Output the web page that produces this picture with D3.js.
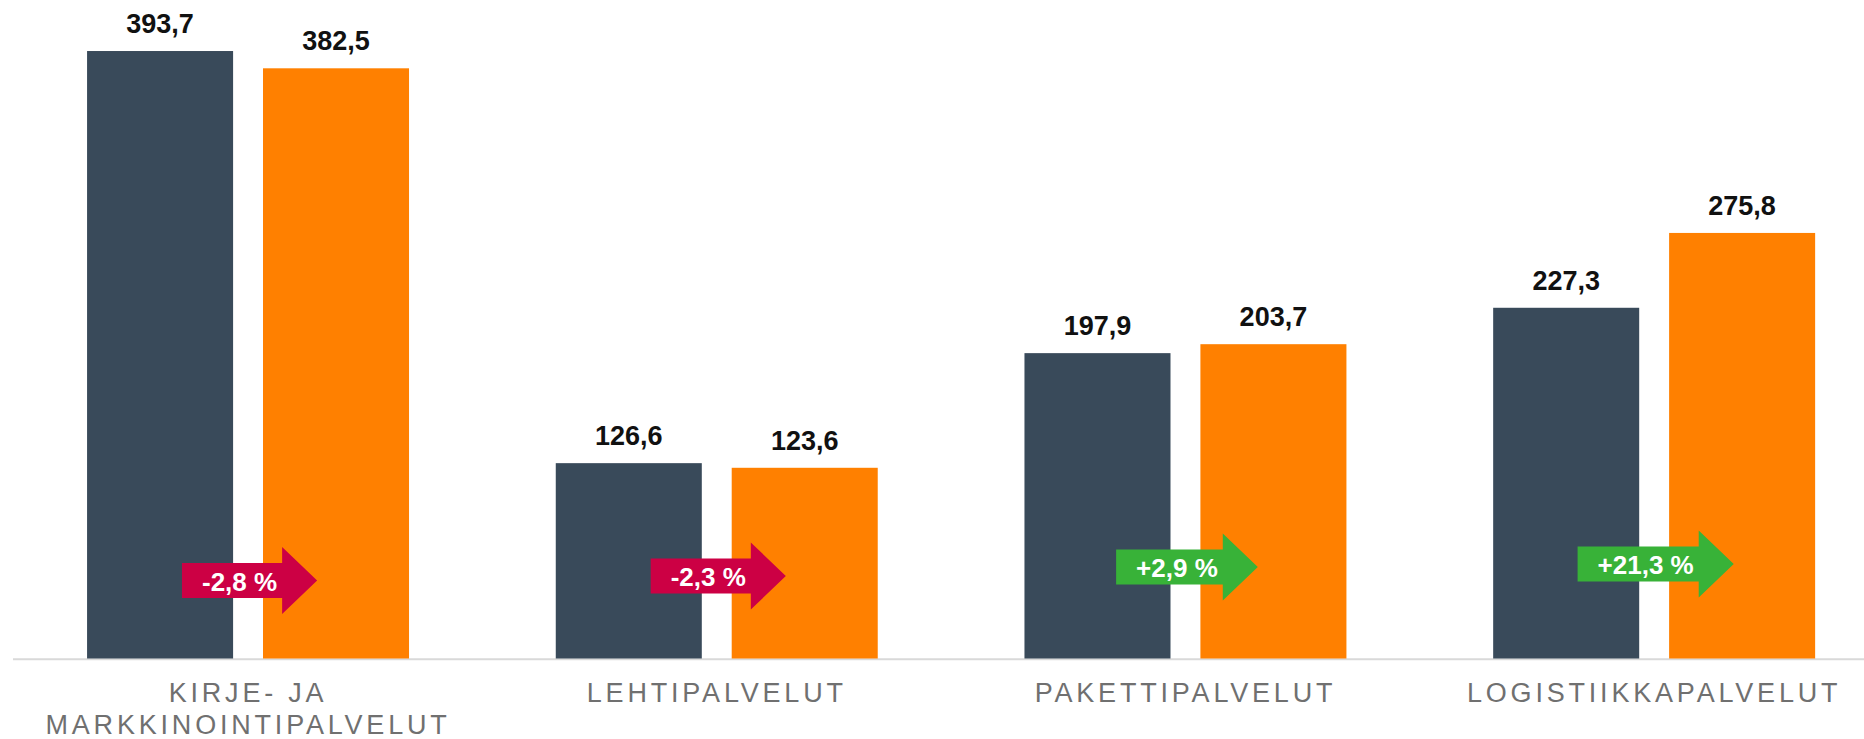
<!DOCTYPE html>
<html>
<head>
<meta charset="utf-8">
<script src="https://cdn.jsdelivr.net/npm/d3@7"></script>
<style>
  html, body { margin: 0; padding: 0; background: #fff; }
  svg { display: block; font-family: Arial, "Liberation Sans", sans-serif; }
  .value-label { font-weight: bold; font-size: 27px; fill: #111; }
  .cat-label { font-size: 27px; fill: #707070; letter-spacing: 3.8px; }
  .arrow-label { font-weight: bold; font-size: 26px; fill: #fff; }
</style>
</head>
<body>
<div id="chart"></div>
<script>
const categories = [
  ["KIRJE- JA", "MARKKINOINTIPALVELUT"],
  ["LEHTIPALVELUT"],
  ["PAKETTIPALVELUT"],
  ["LOGISTIIKKAPALVELUT"],
];
const seriesKeys = ["prev", "curr"];
const prevValues = [393.7, 126.6, 197.9, 227.3];
const currValues = [382.5, 123.6, 203.7, 275.8];
const changeLabels = ["-2,8 %", "-2,3 %", "+2,9 %", "+21,3 %"];
const changeSign = [-1, -1, 1, 1];

const COLORS = { prev: "#394a5a", curr: "#ff8000" };
const ARROW_COLORS = { down: "#cc0044", up: "#38b238" };

const width = 1864;
const height = 739;
const baseline = 658.5;
// arrow vertical placement (centre line) per group
const arrowCenterY = [580.5, 576, 567, 564];

const svg = d3.select("#chart").append("svg")
  .attr("width", width)
  .attr("height", height);

const keys = categories.map((c, i) => i);

const x0 = d3.scaleBand()
  .domain(keys)
  .range([13.7, 13.7 + 468.7 * 4])
  .padding(0);

const x1 = d3.scaleBand()
  .domain(seriesKeys)
  .range([0, x0.bandwidth()])
  .paddingInner(0.17)
  .paddingOuter(0.417);

const y = d3.scaleLinear()
  .domain([0, 400])
  .range([baseline, baseline - 1.543 * 400]);

const rows = keys.map((i) => ({
  i,
  values: [
    { key: "prev", value: prevValues[i] },
    { key: "curr", value: currValues[i] },
  ],
}));

// axis line
svg.append("line")
  .attr("x1", 13)
  .attr("x2", width)
  .attr("y1", baseline + 0.8)
  .attr("y2", baseline + 0.8)
  .attr("stroke", "#d9d9d9")
  .attr("stroke-width", 2);

const groups = svg.append("g")
  .selectAll("g")
  .data(rows)
  .join("g")
  .attr("transform", (d) => `translate(${x0(d.i)},0)`);

groups.selectAll("rect")
  .data((d) => d.values)
  .join("rect")
  .attr("x", (d) => x1(d.key))
  .attr("width", x1.bandwidth())
  .attr("y", (d) => y(d.value))
  .attr("height", (d) => baseline - y(d.value))
  .attr("fill", (d) => COLORS[d.key]);

groups.selectAll(".value-label")
  .data((d) => d.values)
  .join("text")
  .attr("class", "value-label")
  .attr("x", (d) => x1(d.key) + x1.bandwidth() / 2)
  .attr("y", (d) => y(d.value) - 18)
  .attr("text-anchor", "middle")
  .text((d) => d3.format(".1f")(d.value).replace(".", ","));

// category labels
const catText = svg.append("g")
  .selectAll("text")
  .data(keys)
  .join("text")
  .attr("class", "cat-label")
  .attr("text-anchor", "middle")
  .attr("x", (i) => x0(i) + x0.bandwidth() / 2)
  .attr("y", 702);

catText.selectAll("tspan")
  .data((i) => categories[i].map((line, k) => ({ line, k, i })))
  .join("tspan")
  .attr("x", (d) => x0(d.i) + x0.bandwidth() / 2)
  .attr("dy", (d) => (d.k === 0 ? 0 : 32))
  .text((d) => d.line);

// change arrows
const arrowLayer = svg.append("g");
keys.forEach((i) => {
  const g = arrowLayer.append("g");
  const path = g.append("path");
  const label = g.append("text")
    .attr("class", "arrow-label")
    .attr("text-anchor", "start")
    .attr("dominant-baseline", "central")
    .text(changeLabels[i]);

  const textW = label.node().getComputedTextLength();
  const bodyW = textW + 25;
  const headW = 35;
  const bodyH = 35;
  const headH = 67;
  const total = bodyW + headW;
  const cx = x0(i) + x0.bandwidth() / 2 + 1.5;
  const left = cx - total / 2;
  const cy = arrowCenterY[i];

  path
    .attr("d", [
      `M${left},${cy - bodyH / 2}`,
      `L${left + bodyW},${cy - bodyH / 2}`,
      `L${left + bodyW},${cy - headH / 2}`,
      `L${left + total},${cy}`,
      `L${left + bodyW},${cy + headH / 2}`,
      `L${left + bodyW},${cy + bodyH / 2}`,
      `L${left},${cy + bodyH / 2}`,
      "Z",
    ].join(""))
    .attr("fill", changeSign[i] < 0 ? ARROW_COLORS.down : ARROW_COLORS.up);

  label
    .attr("x", left + 20)
    .attr("y", cy + 1);
});
</script>
</body>
</html>
